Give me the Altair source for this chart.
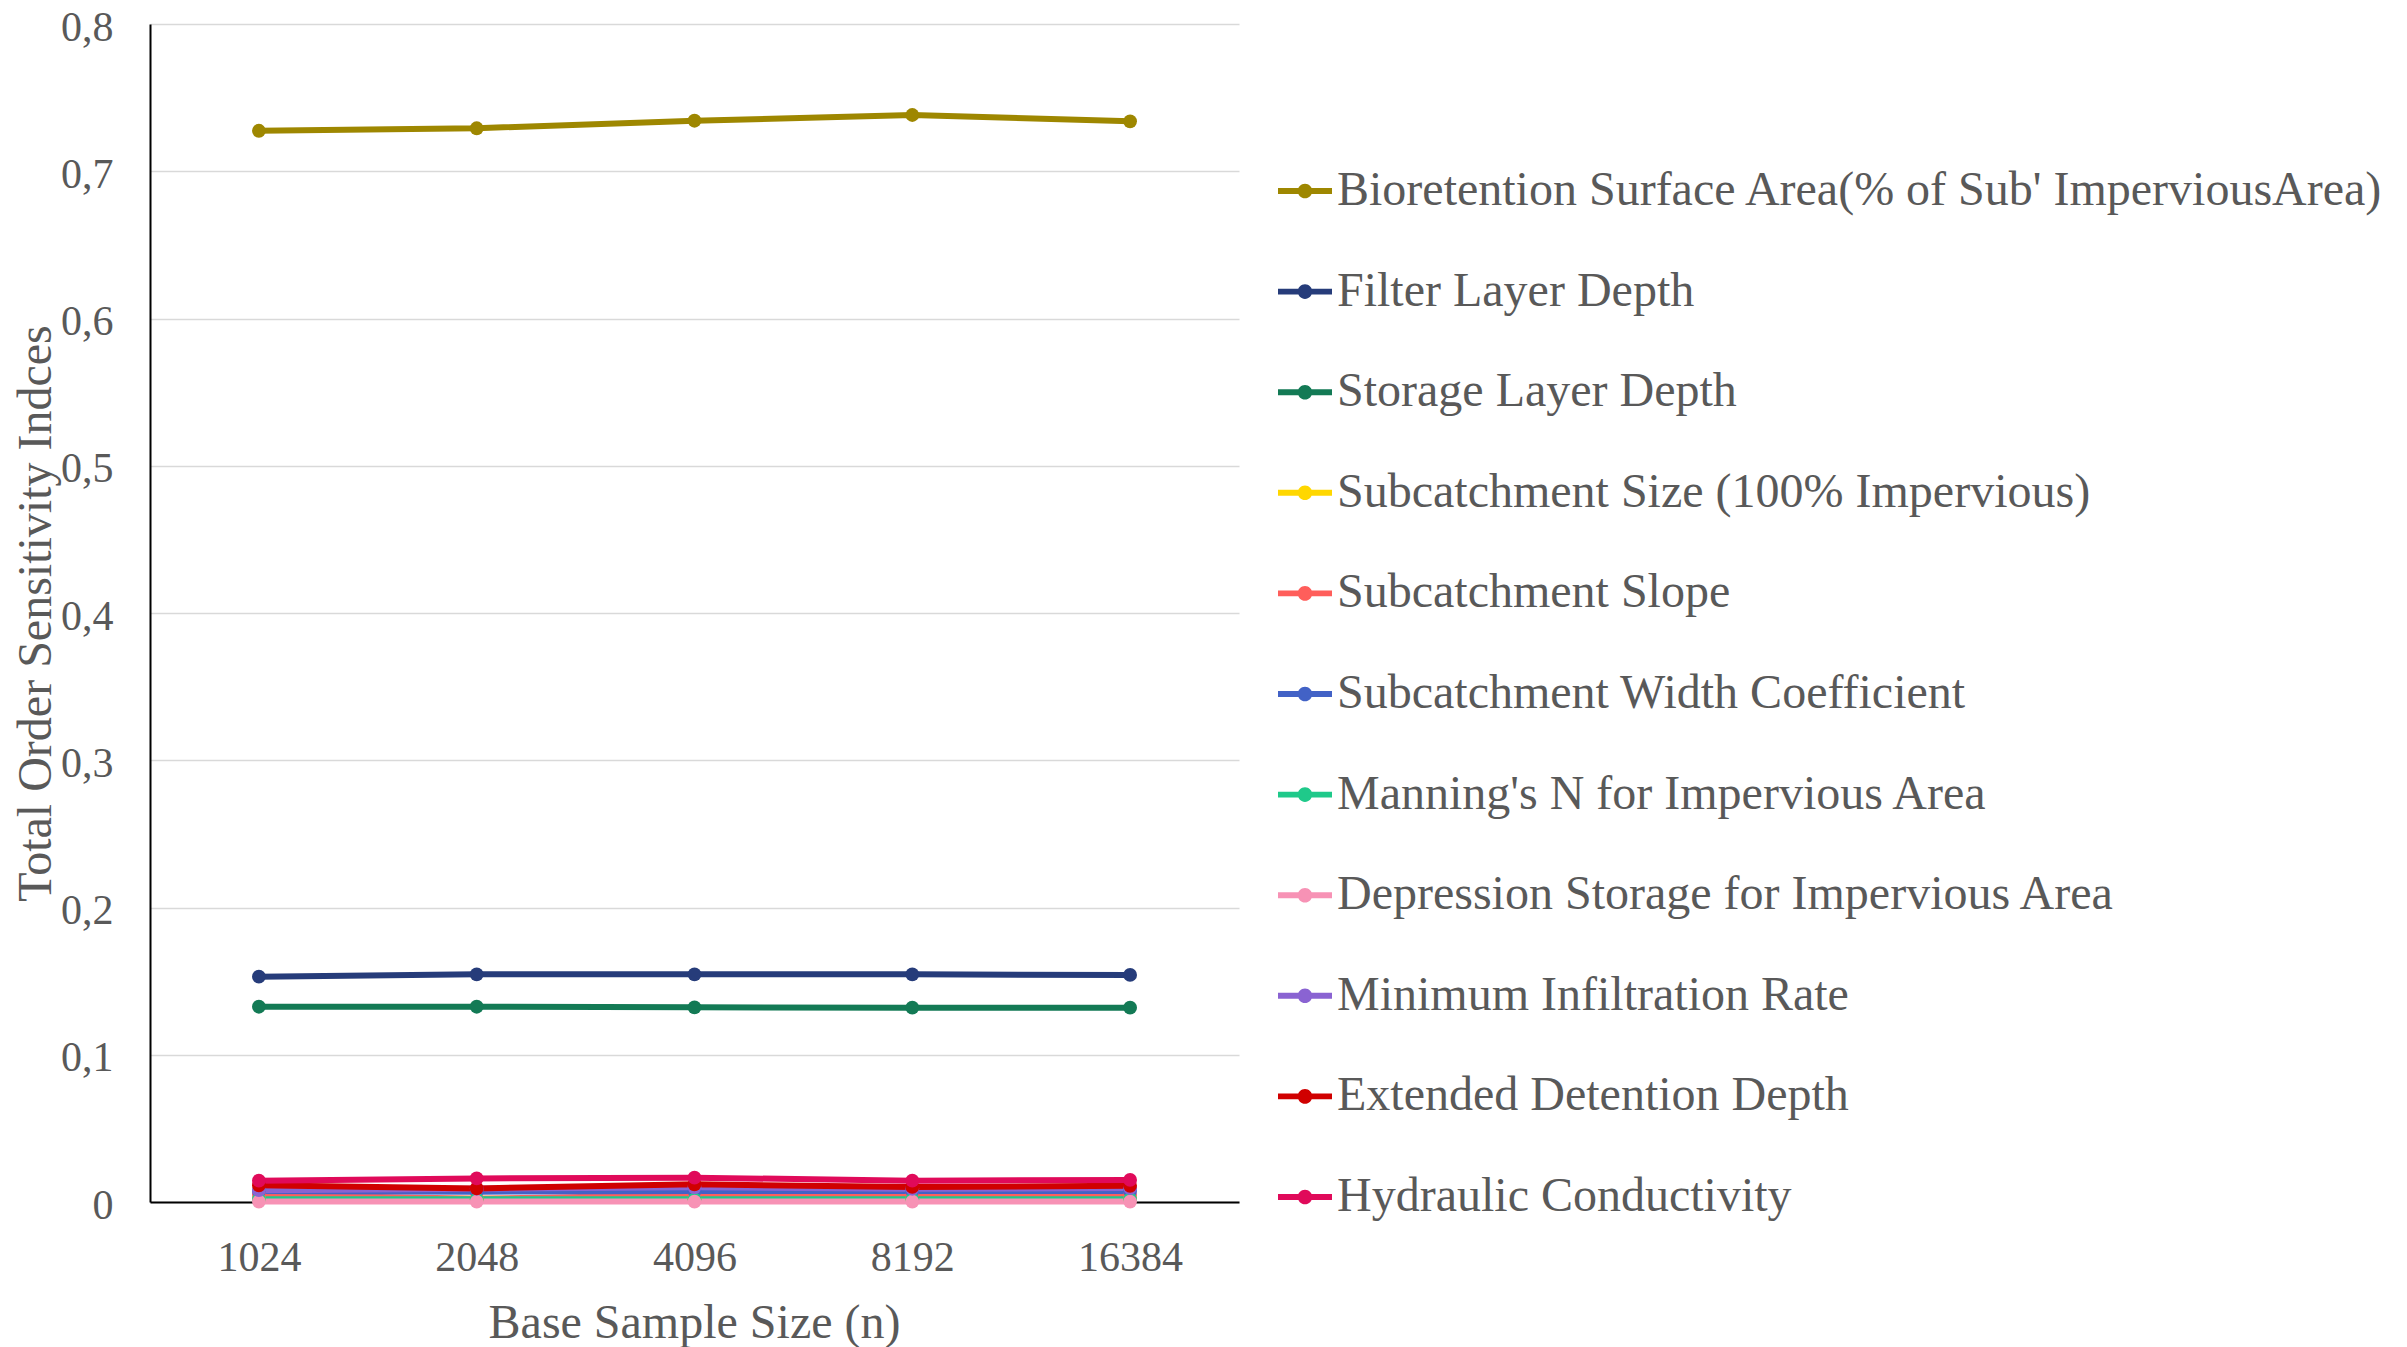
import altair as alt
import pandas as pd

x_labels = ["1024", "2048", "4096", "8192", "16384"]

series = [
    "Bioretention Surface Area(% of Sub' ImperviousArea)",
    "Filter Layer Depth",
    "Storage Layer Depth",
    "Subcatchment Size (100% Impervious)",
    "Subcatchment Slope",
    "Subcatchment Width Coefficient",
    "Manning's N for Impervious Area",
    "Depression Storage for Impervious Area",
    "Minimum Infiltration Rate",
    "Extended Detention Depth",
    "Hydraulic Conductivity",
]

colors = [
    "#9E8700", "#263C7A", "#137A55", "#FFD700", "#FF5E5B", "#4262C6",
    "#1FC98A", "#F792B5", "#8A63D2", "#D00000", "#E00A5A",
]

bioretention = [0.7275, 0.7292, 0.7343, 0.7382, 0.7339]
filter_depth = [0.1530, 0.1546, 0.1546, 0.1546, 0.1542]
storage_depth = [0.1326, 0.1326, 0.1322, 0.1320, 0.1320]
sub_size = [0.0022, 0.0022, 0.0022, 0.0022, 0.0022]
sub_slope = [0.0050, 0.0022, 0.0048, 0.0048, 0.0048]
sub_width = [0.0075, 0.0070, 0.0075, 0.0075, 0.0075]
manning = [0.0018, 0.0018, 0.0018, 0.0018, 0.0018]
depression = [0.0003, 0.0003, 0.0003, 0.0003, 0.0003]
min_infil = [0.0080, 0.0090, 0.0100, 0.0090, 0.0095]
ext_detention = [0.0113, 0.0092, 0.0120, 0.0102, 0.0110]
hydraulic = [0.0145, 0.0160, 0.0165, 0.0145, 0.0150]

y_ticks = [0, 0.1, 0.2, 0.3, 0.4, 0.5, 0.6, 0.7, 0.8]

all_values = [bioretention, filter_depth, storage_depth, sub_size, sub_slope,
              sub_width, manning, depression, min_infil, ext_detention, hydraulic]

rows = []
for s, vals in zip(series, all_values):
    for xl, v in zip(x_labels, vals):
        rows.append({"n": xl, "value": v, "series": s})
df = pd.DataFrame(rows)

FONT = "Liberation Serif"
GREY = "#595959"

legend_path = ("M-1,-0.11L1,-0.11L1,0.11L-1,0.11Z "
               "M-0.27,0A0.27,0.27 0 1,1 0.27,0A0.27,0.27 0 1,1 -0.27,0Z")

x_enc = alt.X("n:O", sort=x_labels,
              scale=alt.Scale(type="point", padding=0.5),
              axis=alt.Axis(title="Base Sample Size (n)", labelAngle=0,
                            ticks=False, tickSize=0, labelPadding=35,
                            labelFontSize=42, titleFontSize=48,
                            titleX=544, titleY=121, titleBaseline="middle",
                            domainColor="#000000", domainWidth=2,
                            grid=False))
y_enc = alt.Y("value:Q",
              scale=alt.Scale(domain=[0, 0.8], nice=False, zero=True),
              axis=alt.Axis(title="Total Order Sensitivity Indces",
                            values=y_ticks, ticks=False, tickSize=0,
                            labelPadding=37, labelFontSize=42, labelOffset=3,
                            titleFontSize=48, titleX=-114, titleY=589,
                            titleBaseline="middle", titleAngle=270,
                            labelExpr="datum.value == 0 ? '0' : replace(format(datum.value, '.1f'), '.', ',')",
                            domainColor="#000000", domainWidth=2,
                            grid=True, gridColor="#D9D9D9", gridWidth=1.5))
color_enc = alt.Color("series:N", sort=series,
                      scale=alt.Scale(domain=series, range=colors),
                      legend=alt.Legend(title=None, orient="none",
                                        legendX=1128, legendY=140,
                                        symbolType=legend_path,
                                        symbolSize=2916,
                                        symbolStrokeWidth=0,
                                        symbolOpacity=1,
                                        labelFontSize=48, labelFont=FONT,
                                        labelColor=GREY, labelOffset=5,
                                        rowPadding=49.6, padding=0,
                                        labelLimit=2000))

lines = alt.Chart(df).mark_line(strokeWidth=6).encode(
    x=x_enc, y=y_enc, color=color_enc)
points = alt.Chart(df).mark_circle(size=190, opacity=1).encode(
    x=x_enc, y=y_enc, color=color_enc)

chart = alt.layer(lines, points).properties(
    width=1089, height=1178,
    background="white",
    autosize=alt.AutoSizeParams(type="none"),
    padding={"left": 142, "top": 16, "right": 1160, "bottom": 145},
).configure_view(stroke=None).configure_axis(
    labelFont=FONT, titleFont=FONT, labelColor=GREY, titleColor=GREY,
    titleFontWeight="normal",
)

chart.save("out.html", embed_options={"renderer": "svg", "actions": False})
